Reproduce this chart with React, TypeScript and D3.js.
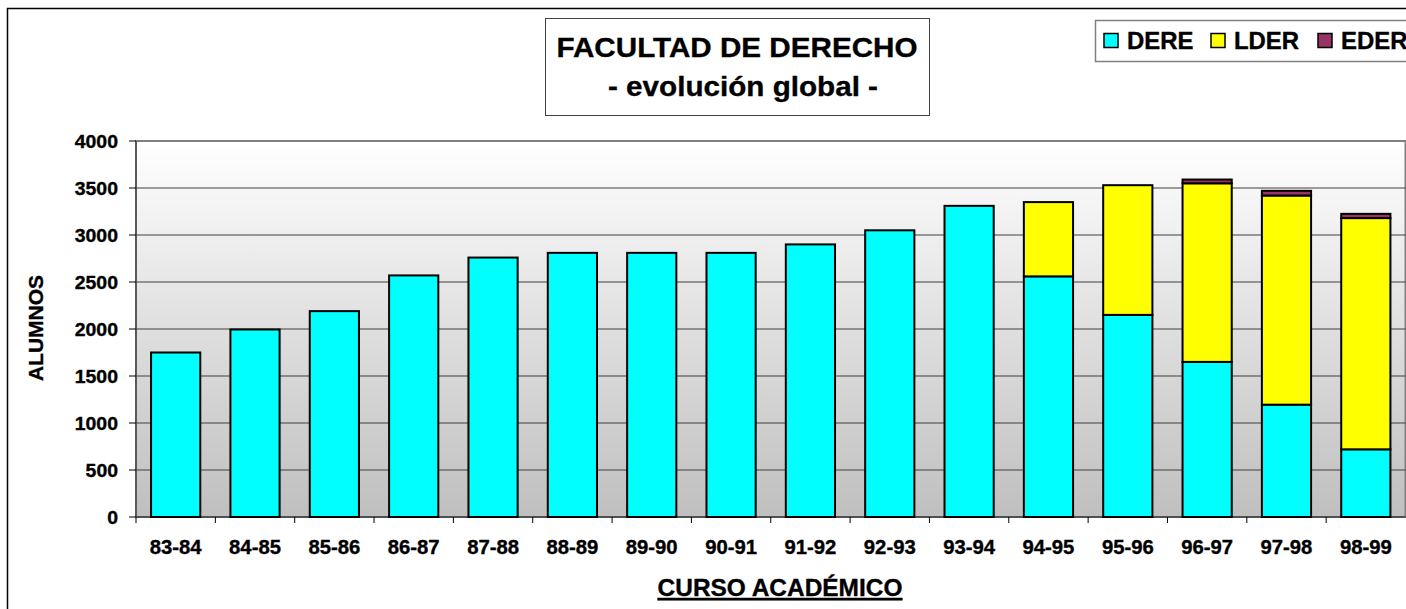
import React from "react";
import * as d3 from "d3";

const categories = ["83-84","84-85","85-86","86-87","87-88","88-89","89-90","90-91","91-92","92-93","93-94","94-95","95-96","96-97","97-98","98-99"];
const dere = [1750,1995,2190,2570,2760,2810,2810,2810,2900,3050,3310,2560,2150,1650,1195,720];
const lder = [0,0,0,0,0,0,0,0,0,0,0,790,1380,1900,2225,2460];
const eder = [0,0,0,0,0,0,0,0,0,0,0,0,0,40,50,45];
const yTicks = [0,500,1000,1500,2000,2500,3000,3500,4000];
const seriesNames = ["DERE","LDER","EDER"];
const seriesColors = ["#00FFFF","#FFFF00","#993366"];

const FONT = "Arial, 'Liberation Sans', Helvetica, sans-serif";
const SX = 1.04;

function T({x, y, size, anchor = "middle", children, sx = SX, underline = false}: any) {
  return (
    <g transform={`translate(${x},${y}) scale(${sx},1)`}>
      <text x={0} y={0} fontFamily={FONT} fontWeight="bold" fontSize={size} textAnchor={anchor}
        textDecoration={underline ? "underline" : undefined} fill="#000" stroke="#000" strokeWidth={0.35}>{children}</text>
    </g>
  );
}

export default function App() {
  const left = 136, right = 1405.5, top = 141, bottom = 517;
  const x = d3.scaleBand<string>().domain(categories).range([left, right]).paddingInner(0.38).paddingOuter(0.19);
  const y = d3.scaleLinear().domain([0, 4000]).range([bottom, top]);
  const rows = categories.map((c, i) => ({ cat: c, DERE: dere[i], LDER: lder[i], EDER: eder[i] }));
  const stack = d3.stack<any>().keys(seriesNames)(rows);
  const step = x.step();

  return (
    <svg width={1406} height={609} style={{ position: "absolute", left: 0, top: 0 }}>
      <defs>
        <linearGradient id="bg" x1="0" y1="0" x2="0" y2="1">
          <stop offset="0" stopColor="#ffffff" />
          <stop offset="1" stopColor="#bfbfbf" />
        </linearGradient>
      </defs>
      <rect x={0} y={0} width={1406} height={609} fill="#fff" />
      <rect x={7.5} y={8.5} width={1420} height={620} fill="#fff" stroke="#000" strokeWidth={1.5} />
      {/* plot area */}
      <rect x={left} y={top} width={right - left} height={bottom - top} fill="url(#bg)" stroke="#808080" strokeWidth={2} />
      {yTicks.map(t => (
        <line key={t} x1={left} x2={right} y1={y(t)} y2={y(t)} stroke={t === 4000 ? "#808080" : "#404040"} strokeWidth={t === 4000 ? 2 : 1.2} />
      ))}
      {/* axes */}
      <line x1={left} x2={left} y1={top} y2={bottom} stroke="#404040" strokeWidth={1.2} />
      <line x1={left} x2={right} y1={bottom} y2={bottom} stroke="#404040" strokeWidth={1.2} />
      {yTicks.map(t => (
        <g key={"yt" + t}>
          <line x1={left - 7} x2={left} y1={y(t)} y2={y(t)} stroke="#000" strokeWidth={1} />
          <T x={118} y={y(t) + 6.5} size={18.7} anchor="end">{t}</T>
        </g>
      ))}
      {categories.map((c, i) => (
        <line key={"xt" + c} x1={left + i * step} x2={left + i * step} y1={bottom} y2={bottom + 6} stroke="#000" strokeWidth={1} />
      ))}
      {/* bars */}
      {stack.map((s, si) => (
        <g key={s.key}>
          {s.map((d, i) => d[1] - d[0] > 0 ? (
            <rect key={i} x={x(categories[i])!} width={x.bandwidth()} y={y(d[1])} height={y(d[0]) - y(d[1])}
              fill={seriesColors[si]} stroke="#000" strokeWidth={2} />
          ) : null)}
        </g>
      ))}
      {categories.map(c => (
        <T key={"xl" + c} x={x(c)! + x.bandwidth() / 2} y={554} size={19.5}>{c}</T>
      ))}
      {/* axis titles */}
      <g transform="translate(43,328) rotate(-90)">
        <text x={0} y={0} fontFamily={FONT} fontWeight="bold" fontSize={21} textAnchor="middle" stroke="#000" strokeWidth={0.35}>ALUMNOS</text>
      </g>
      <T x={780} y={596} size={23.5} underline>CURSO ACADÉMICO</T>
      {/* title */}
      <rect x={545.5} y={18.5} width={384} height={97} fill="#fff" stroke="#404040" strokeWidth={1} />
      <T x={737} y={57} size={28.5}>FACULTAD DE DERECHO</T>
      <T x={743} y={96} size={28.5}>- evolución global -</T>
      {/* legend */}
      <rect x={1095.5} y={20.5} width={330} height={41} fill="#fff" stroke="#808080" strokeWidth={1.5} />
      {seriesNames.map((n, i) => {
        const lx = [1104, 1211, 1318][i];
        return (
          <g key={n}>
            <rect x={lx} y={33.5} width={14} height={14} fill={seriesColors[i]} stroke="#000" strokeWidth={1.5} />
            <T x={lx + 23} y={49} size={23} anchor="start">{n}</T>
          </g>
        );
      })}
    </svg>
  );
}
